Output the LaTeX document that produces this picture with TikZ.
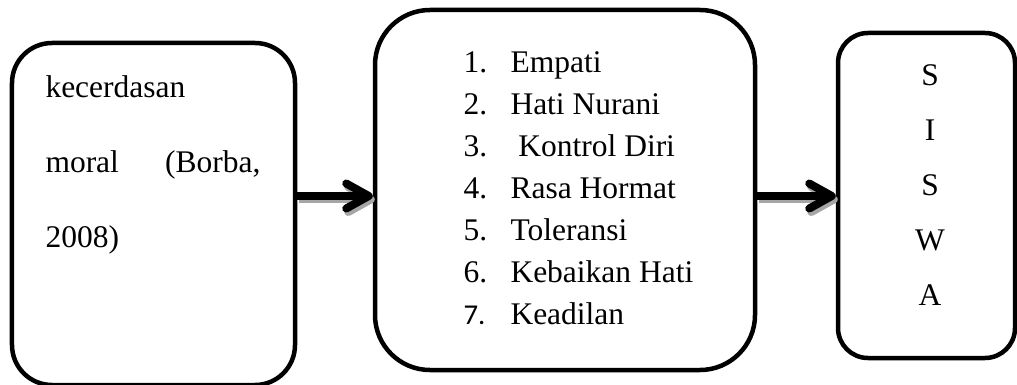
\documentclass[tikz,border=0pt]{standalone}
\usepackage{fontspec}
\setmainfont{Liberation Serif}
\newfontfamily\angkafont{Carlito}
\usetikzlibrary{positioning, arrows.meta}
\tikzset{
    kotak/.style={draw, line width=1.8pt, inner sep=0pt}, % the three rounded boxes
    isi/.style={inner sep=0pt, anchor=north west, align=left}, % text inside the boxes
    panah/.style={line width=3.2pt, -{Straight Barb[length=9pt, width=10pt, line cap=round, line join=round]}},
}

\begin{document}
\begin{tikzpicture}[x=0.4pt, y=-0.4pt]
    \useasboundingbox (0,0) rectangle (1017,385);
    % boxes
    \node[kotak, rounded corners=16pt, minimum width=113.2pt, minimum height=136.8pt] (moral) at (153.5,214) {};
    \node[kotak, rounded corners=22pt, minimum width=152pt, minimum height=144pt] (aspek) at (565,190) {};
    \node[kotak, rounded corners=12pt, minimum width=70.8pt, minimum height=130pt] (siswa) at (926.5,195.5) {};
    % texts
    \node[isi, font={\fontsize{12.6}{30}\selectfont}] (teksmoral) at (45,75)
        {kecerdasan\\ \makebox[86pt][s]{moral\hfill(Borba,}\\ 2008)};
    \node[isi, font={\fontsize{12.6}{16.8}\selectfont}] (teksaspek) at (463,51)
        {\makebox[18.8pt][l]{1.}Empati\\
         \makebox[18.8pt][l]{2.}Hati Nurani\\
         \makebox[18.8pt][l]{3.}\ Kontrol Diri\\
         \makebox[18.8pt][l]{4.}Rasa Hormat\\
         \makebox[18.8pt][l]{5.}Toleransi\\
         \makebox[18.8pt][l]{6.}Kebaikan Hati\\
         \makebox[18.8pt][l]{\angkafont\fontsize{11.5}{16.8}\selectfont 7.}Keadilan};
    \node[inner sep=0pt, anchor=north, align=center, font={\fontsize{12.6}{22}\selectfont}] (tekssiswa) at (930,64)
        {S\\ I\\ S\\ W\\ A};
    % arrows with shadow
    \coordinate (garis) at (0,196);
    \draw[panah, draw=black!35, transform canvas={shift={(0.8pt,-1.4pt)}}] (moral.east |- garis) -- (aspek.west |- garis);
    \draw[panah, draw=black!35, transform canvas={shift={(0.8pt,-1.4pt)}}] (aspek.east |- garis) -- (siswa.west |- garis);
    \draw[panah] (moral.east |- garis) -- (aspek.west |- garis);
    \draw[panah] (aspek.east |- garis) -- (siswa.west |- garis);
\end{tikzpicture}
\end{document}
